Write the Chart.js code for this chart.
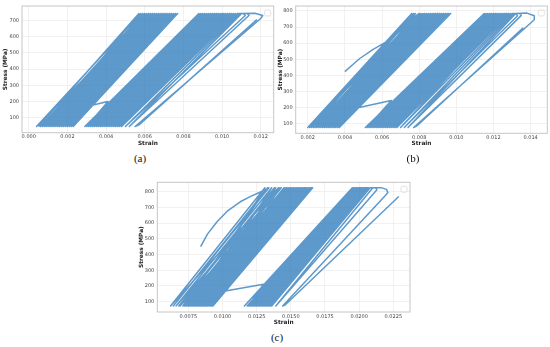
<!DOCTYPE html>
<html>
<head>
<meta charset="utf-8">
<script src="https://cdn.jsdelivr.net/npm/chart.js@4.4.1/dist/chart.umd.min.js"></script>
<style>
  html, body { margin: 0; padding: 0; background: #fff; }
  #fig { position: relative; width: 550px; height: 347px; overflow: hidden; }
  canvas { position: absolute; }
  .cap { position: absolute; font-family: "Liberation Serif", serif; font-size: 11px; line-height: 11px; color: #111; transform: translateX(-50%); }
</style>
</head>
<body>
<div id="fig">
  <canvas id="ca" width="276" height="147" style="left:0;top:0"></canvas>
  <canvas id="cb" width="275" height="147" style="left:275px;top:0"></canvas>
  <canvas id="cc" width="280" height="161" style="left:135px;top:165px"></canvas>
  <div class="cap" style="left:140px;top:153px">(a)</div>
  <div class="cap" style="left:413px;top:153px">(b)</div>
  <div class="cap" style="left:277px;top:332px">(c)</div>
</div>
<script>
// ---------- panel (a) ----------
const aXTicks = [0, 0.002, 0.004, 0.006, 0.008, 0.010, 0.012];
const aYTicks = [100, 200, 300, 400, 500, 600, 700];
const aStressLo = 45, aStressHi = 742;
const aBand1Bottom = [0.0005, 0.0009, 0.0004, 0.0012, 0.0007, 0.0015, 0.0010, 0.0006, 0.0013, 0.0018, 0.0011, 0.0008, 0.0016, 0.0020, 0.0014, 0.0009, 0.0017, 0.0021, 0.0012, 0.0019, 0.0023, 0.0015, 0.0010, 0.0018, 0.0022, 0.0016, 0.0013, 0.0020, 0.0023, 0.0017, 0.0021, 0.0014, 0.0019, 0.0022, 0.0011, 0.0020];
const aBand1Top = [0.0057, 0.0062, 0.0058, 0.0065, 0.0060, 0.0069, 0.0063, 0.0059, 0.0066, 0.0071, 0.0064, 0.0061, 0.0069, 0.0073, 0.0067, 0.0062, 0.0070, 0.0074, 0.0065, 0.0072, 0.0076, 0.0068, 0.0063, 0.0071, 0.0075, 0.0069, 0.0066, 0.0073, 0.0077, 0.0070, 0.0074, 0.0067, 0.0072, 0.0076, 0.0064, 0.0073];
const aLinkStrain = [0.0025, 0.0041];
const aLinkStress = [155, 200];
const aBand2Bottom = [0.0030, 0.0034, 0.0029, 0.0037, 0.0032, 0.0040, 0.0035, 0.0031, 0.0038, 0.0042, 0.0036, 0.0033, 0.0041, 0.0044, 0.0039, 0.0034, 0.0043, 0.0045, 0.0037, 0.0042, 0.0046, 0.0040, 0.0035, 0.0044, 0.0047, 0.0041, 0.0038, 0.0045, 0.0043, 0.0039, 0.0046, 0.0042, 0.0044, 0.0047, 0.0040, 0.0045];
const aBand2Top = [0.0089, 0.0093, 0.0088, 0.0097, 0.0091, 0.0099, 0.0094, 0.0090, 0.0098, 0.0101, 0.0096, 0.0092, 0.0100, 0.0104, 0.0099, 0.0094, 0.0103, 0.0105, 0.0096, 0.0102, 0.0106, 0.0100, 0.0095, 0.0103, 0.0107, 0.0101, 0.0097, 0.0104, 0.0102, 0.0098, 0.0105, 0.0103, 0.0105, 0.0106, 0.0101, 0.0106];
const aTailStrain = [0.0048, 0.0108, 0.0111, 0.0112, 0.0050, 0.0109, 0.0113, 0.0114, 0.0052, 0.0110, 0.0117, 0.0121, 0.0120, 0.0055, 0.0057, 0.0118];
const aTailStress = [45, 742, 742, 730, 45, 742, 742, 732, 45, 742, 744, 730, 712, 45, 55, 705];

// ---------- panel (b) ----------
const bXTicks = [0.002, 0.004, 0.006, 0.008, 0.010, 0.012, 0.014];
const bYTicks = [100, 200, 300, 400, 500, 600, 700, 800];
const bStressLo = 78, bStressHi = 784;
const bStartStrain = [0.0040, 0.0044, 0.0048, 0.0055, 0.0062, 0.0068, 0.0073, 0.0077, 0.0080];
const bStartStress = [424, 465, 505, 560, 606, 660, 712, 760, 784];
const bBand1Bottom = [0.0021, 0.0025, 0.0020, 0.0028, 0.0023, 0.0031, 0.0026, 0.0022, 0.0029, 0.0033, 0.0027, 0.0024, 0.0032, 0.0035, 0.0030, 0.0025, 0.0034, 0.0036, 0.0028, 0.0033, 0.0037, 0.0031, 0.0026, 0.0035, 0.0037, 0.0032, 0.0029, 0.0036, 0.0034, 0.0030, 0.0037, 0.0033, 0.0035, 0.0036, 0.0031, 0.0034];
const bBand1Top = [0.0077, 0.0082, 0.0076, 0.0086, 0.0080, 0.0090, 0.0083, 0.0078, 0.0087, 0.0092, 0.0085, 0.0081, 0.0091, 0.0095, 0.0088, 0.0083, 0.0093, 0.0096, 0.0086, 0.0093, 0.0097, 0.0089, 0.0084, 0.0094, 0.0096, 0.0090, 0.0088, 0.0095, 0.0094, 0.0089, 0.0097, 0.0091, 0.0095, 0.0097, 0.0090, 0.0092];
const bLinkStrain = [0.0047, 0.0065];
const bLinkStress = [200, 245];
const bBand2Bottom = [0.0052, 0.0056, 0.0051, 0.0059, 0.0054, 0.0062, 0.0057, 0.0053, 0.0060, 0.0064, 0.0058, 0.0055, 0.0063, 0.0066, 0.0061, 0.0056, 0.0065, 0.0067, 0.0059, 0.0064, 0.0068, 0.0062, 0.0057, 0.0066, 0.0068, 0.0063, 0.0060, 0.0067, 0.0065, 0.0061, 0.0068, 0.0064, 0.0066, 0.0067, 0.0062, 0.0065];
const bBand2Top = [0.0116, 0.0119, 0.0115, 0.0122, 0.0118, 0.0124, 0.0120, 0.0117, 0.0122, 0.0126, 0.0121, 0.0118, 0.0125, 0.0127, 0.0123, 0.0119, 0.0126, 0.0128, 0.0121, 0.0125, 0.0129, 0.0124, 0.0120, 0.0127, 0.0128, 0.0124, 0.0122, 0.0128, 0.0127, 0.0123, 0.0129, 0.0126, 0.0128, 0.0129, 0.0125, 0.0127];
const bTailStrain = [0.0070, 0.0130, 0.0132, 0.0133, 0.0072, 0.0131, 0.0134, 0.0135, 0.0074, 0.0132, 0.0138, 0.0142, 0.0142, 0.0077, 0.0079, 0.0136];
const bTailStress = [78, 784, 784, 770, 78, 784, 784, 772, 78, 784, 786, 770, 745, 78, 90, 695];

// ---------- panel (c) ----------
const cXTicks = [0.0075, 0.0100, 0.0125, 0.0150, 0.0175, 0.0200, 0.0225];
const cYTicks = [100, 200, 300, 400, 500, 600, 700, 800];
const cStressLo = 72, cStressHi = 825;
const cStartStrain = [0.0084, 0.0089, 0.0096, 0.0104, 0.0113, 0.0121, 0.0127, 0.0131, 0.0134];
const cStartStress = [450, 530, 609, 680, 736, 772, 795, 812, 825];
const cBand1Bottom = [0.0064, 0.0071, 0.0062, 0.0077, 0.0068, 0.0082, 0.0073, 0.0066, 0.0079, 0.0086, 0.0075, 0.0069, 0.0084, 0.0089, 0.0080, 0.0072, 0.0087, 0.0091, 0.0078, 0.0085, 0.0093, 0.0082, 0.0074, 0.0088, 0.0092, 0.0083, 0.0079, 0.0090, 0.0087, 0.0081, 0.0093, 0.0085, 0.0089, 0.0091, 0.0076, 0.0088];
const cBand1Top = [0.0133, 0.0141, 0.0131, 0.0148, 0.0138, 0.0154, 0.0143, 0.0136, 0.0150, 0.0158, 0.0146, 0.0139, 0.0156, 0.0161, 0.0151, 0.0142, 0.0159, 0.0164, 0.0149, 0.0157, 0.0166, 0.0153, 0.0145, 0.0160, 0.0165, 0.0155, 0.0149, 0.0163, 0.0160, 0.0152, 0.0165, 0.0158, 0.0162, 0.0165, 0.0147, 0.0161];
const cLinkStrain = [0.0102, 0.0130];
const cLinkStress = [168, 211];
const cBand2Bottom = [0.0119, 0.0121, 0.0116, 0.0125, 0.0119, 0.0128, 0.0122, 0.0118, 0.0126, 0.0131, 0.0124, 0.0120, 0.0129, 0.0133, 0.0127, 0.0121, 0.0132, 0.0134, 0.0125, 0.0130, 0.0135, 0.0128, 0.0123, 0.0133, 0.0135, 0.0129, 0.0126, 0.0134, 0.0131, 0.0127, 0.0135, 0.0130, 0.0133, 0.0134, 0.0128, 0.0132];
const cBand2Top = [0.0196, 0.0198, 0.0195, 0.0201, 0.0197, 0.0203, 0.0199, 0.0196, 0.0201, 0.0204, 0.0200, 0.0197, 0.0203, 0.0206, 0.0202, 0.0198, 0.0205, 0.0206, 0.0200, 0.0204, 0.0207, 0.0202, 0.0199, 0.0205, 0.0206, 0.0203, 0.0201, 0.0207, 0.0205, 0.0202, 0.0207, 0.0204, 0.0206, 0.0207, 0.0203, 0.0205];
const cTailStrain = [0.0136, 0.0208, 0.0212, 0.0213, 0.0139, 0.0210, 0.0216, 0.0220, 0.0221, 0.0219, 0.0144, 0.0146, 0.0229];
const cTailStress = [72, 825, 825, 812, 72, 825, 826, 815, 795, 775, 72, 80, 770];

const lineColor = 'rgba(52,128,190,0.8)';

function pairs(xs, ys) {
  return xs.map((x, i) => ({ x: x, y: ys[i] }));
}

// one load/unload cycle per entry: bottom of cycle at lo, peak at hi
function cycles(bottom, top, lo, hi) {
  const pts = [];
  bottom.forEach((b, i) => {
    pts.push({ x: b, y: lo });
    pts.push({ x: top[i], y: hi });
  });
  return pts;
}

const framePlugin = {
  id: 'frame',
  afterDraw(chart) {
    const { ctx, chartArea } = chart;
    ctx.save();
    ctx.strokeStyle = '#c6c6c6';
    ctx.lineWidth = 1;
    ctx.strokeRect(chartArea.left, chartArea.top, chartArea.right - chartArea.left, chartArea.bottom - chartArea.top);
    // empty legend box in the corner
    ctx.strokeStyle = '#e0e0e0';
    ctx.beginPath();
    ctx.roundRect(chartArea.right - 9, chartArea.top + 4, 6, 6, 1.5);
    ctx.stroke();
    ctx.restore();
  }
};

function makePanel(id, points, xRange, yRange, xTicks, yTicks, digits, box) {
  const ctx = document.getElementById(id).getContext('2d');
  return new Chart(ctx, {
    type: 'scatter',
    data: {
      datasets: [{
        data: points,
        showLine: true,
        borderColor: lineColor,
        borderWidth: 1.5,
        borderJoinStyle: 'round',
        pointRadius: 0,
        tension: 0
      }]
    },
    options: {
      responsive: false,
      animation: false,
      devicePixelRatio: 1,
      layout: { padding: { left: 0, top: box.top, right: box.right, bottom: 0 } },
      plugins: { legend: { display: false }, tooltip: { enabled: false } },
      scales: {
        x: {
          type: 'linear',
          min: xRange[0],
          max: xRange[1],
          afterBuildTicks: s => { s.ticks = xTicks.map(v => ({ value: v })); },
          afterFit: s => { s.height = box.xh; },
          grid: { color: '#ededed', lineWidth: 0.8, drawTicks: false },
          border: { display: false },
          ticks: {
            font: { family: 'DejaVu Sans', size: 5 },
            color: '#444',
            padding: 1.5,
            maxRotation: 0,
            autoSkip: false,
            callback: v => v.toFixed(digits)
          },
          title: {
            display: true,
            text: 'Strain',
            color: '#222',
            font: { family: 'DejaVu Sans', size: 5.8, weight: 'bold' },
            padding: { top: 0, bottom: 0 }
          }
        },
        y: {
          type: 'linear',
          min: yRange[0],
          max: yRange[1],
          afterBuildTicks: s => { s.ticks = yTicks.map(v => ({ value: v })); },
          afterFit: s => { s.width = box.yw; },
          grid: { color: '#ededed', lineWidth: 0.8, drawTicks: false },
          border: { display: false },
          ticks: {
            font: { family: 'DejaVu Sans', size: 5 },
            color: '#444',
            padding: 3,
            autoSkip: false
          },
          title: {
            display: true,
            text: 'Stress (MPa)',
            color: '#222',
            font: { family: 'DejaVu Sans', size: 5.8, weight: 'bold' },
            padding: { top: box.yt, bottom: 0 }
          }
        }
      }
    },
    plugins: [framePlugin]
  });
}

const aPoints = [].concat(
  cycles(aBand1Bottom, aBand1Top, aStressLo, aStressHi),
  pairs(aLinkStrain, aLinkStress),
  cycles(aBand2Bottom, aBand2Top, aStressLo, aStressHi),
  pairs(aTailStrain, aTailStress)
);
const bPoints = [].concat(
  pairs(bStartStrain, bStartStress),
  cycles(bBand1Bottom, bBand1Top, bStressLo, bStressHi),
  pairs(bLinkStrain, bLinkStress),
  cycles(bBand2Bottom, bBand2Top, bStressLo, bStressHi),
  pairs(bTailStrain, bTailStress)
);
const cPoints = [].concat(
  pairs(cStartStrain, cStartStress),
  cycles(cBand1Bottom, cBand1Top, cStressLo, cStressHi),
  pairs(cLinkStrain, cLinkStress),
  cycles(cBand2Bottom, cBand2Top, cStressLo, cStressHi),
  pairs(cTailStrain, cTailStress)
);

makePanel('ca', aPoints, [-0.00035, 0.01267], [7, 789], aXTicks, aYTicks, 3,
  { top: 3, right: 2.3, xh: 14.3, yw: 22, yt: 2.5 });
makePanel('cb', bPoints, [0.00135, 0.0149], [42, 830], bXTicks, bYTicks, 3,
  { top: 3, right: 2.7, xh: 13.7, yw: 20.7, yt: 2.5 });
makePanel('cc', cPoints, [0.00523, 0.02372], [34, 860], cXTicks, cYTicks, 4,
  { top: 17.3, right: 5, xh: 14, yw: 22.3, yt: 3.2 });
</script>
</body>
</html>
